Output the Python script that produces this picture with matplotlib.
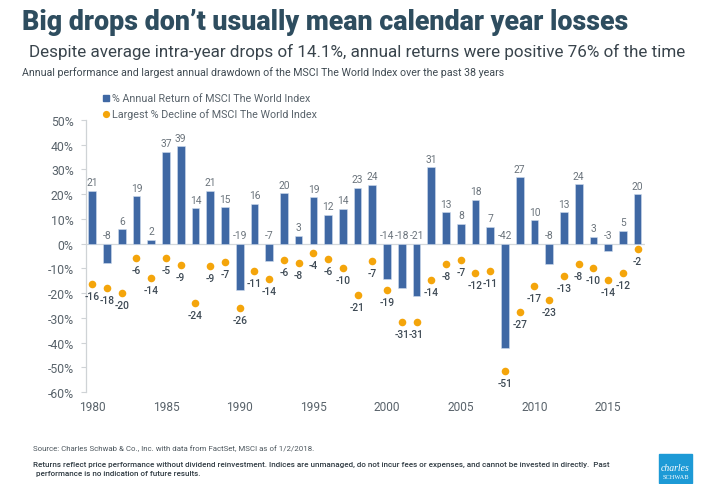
import matplotlib
matplotlib.use("Agg")
import matplotlib.pyplot as plt
from matplotlib.patches import Rectangle
from matplotlib.lines import Line2D

years = list(range(1980, 2018))
returns = [21.3, -7.8, 5.8, 19.2, 1.6, 37.1, 39.3, 14.4, 21.3, 14.7, -18.8, 16.1, -7.2, 20.4, 3.2,
           18.8, 11.7, 14.2, 22.7, 23.8, -14.3, -17.9, -21.3, 30.8, 12.7, 8.1, 17.7, 6.9, -42.4,
           26.9, 9.4, -8.2, 12.7, 24.0, 2.8, -2.8, 5.3, 20.0]
return_labels = [21, -8, 6, 19, 2, 37, 39, 14, 21, 15, -19, 16, -7, 20, 3, 19, 12, 14, 23, 24, -14, -18, -21,
                 31, 13, 8, 18, 7, -42, 27, 10, -8, 13, 24, 3, -3, 5, 20]
declines = [-16.2, -18.1, -19.8, -5.9, -13.8, -5.7, -8.8, -24.0, -9.2, -7.6, -26.2, -10.9, -14.2, -6.6,
            -7.7, -3.9, -6.1, -9.7, -20.6, -7.2, -18.9, -31.6, -31.6, -14.7, -8.4, -6.6, -11.7, -11.2,
            -51.4, -27.8, -17.0, -22.9, -13.2, -8.1, -9.9, -14.7, -11.7, -2.3]
decline_labels = [-16, -18, -20, -6, -14, -5, -9, -24, -9, -7, -26, -11, -14, -6, -8, -4, -6, -10, -21, -7,
                  -19, -31, -31, -14, -8, -7, -12, -11, -51, -27, -17, -23, -13, -8, -10, -14, -12, -2]
y_ticks = [50, 40, 30, 20, 10, 0, -10, -20, -30, -40, -50, -60]
x_ticks = [1980, 1985, 1990, 1995, 2000, 2005, 2010, 2015]
legend_labels = ["% Annual Return of MSCI The World Index", "Largest % Decline of MSCI The World Index"]

BLUE = "#3f68a4"
GOLD = "#f4a50b"
TXT = "#59636b"
DARK = "#3e4a55"
TITLE = "#2e4d5f"
plt.rcParams["font.family"] = ["Roboto", "DejaVu Sans"]

W, H = 720, 485
fig = plt.figure(figsize=(7.2, 4.85), dpi=100)


def px(x, y):
    return x / W, 1 - y / H


x0, x1 = 85.5, 645
y_top, y_bot = 121, 393
ax = fig.add_axes([x0 / W, 1 - y_bot / H, (x1 - x0) / W, (y_bot - y_top) / H])
ax.set_xlim(1979.54, 2017.5)
ax.set_ylim(-60, 50)
ax.patch.set_alpha(0)

ax.bar(years, returns, width=0.52, color=BLUE, edgecolor="#cfdcec", linewidth=0.4, zorder=2)
ax.scatter(years, declines, s=30, color=GOLD, linewidths=0, zorder=3)

for yr, v, lab in zip(years, returns, return_labels):
    base = max(v, 0)
    ax.annotate(str(lab), (yr, base), xytext=(0, 3.5), textcoords="offset pixels", ha="center", va="bottom",
                fontsize=7.4, color="#6b747c", zorder=4)
for yr, v, lab in zip(years, declines, decline_labels):
    ax.annotate(str(lab), (yr, v), xytext=(0, -7), textcoords="offset pixels", ha="center", va="top",
                fontsize=7.4, color=DARK, fontweight="medium", zorder=4)

ax.axhline(0, color="#d4d8db", linewidth=0.9, zorder=1)
for s in ["top", "right", "bottom"]:
    ax.spines[s].set_visible(False)
ax.spines["left"].set_color("#cfd3d6")
ax.spines["left"].set_linewidth(0.9)
ax.set_yticks(y_ticks)
ax.set_yticklabels([f"{t}%" for t in y_ticks], fontsize=8.8, color=TXT)
ax.set_xticks(x_ticks)
ax.set_xticklabels([str(t) for t in x_ticks], fontsize=8.6, color=TXT)
ax.tick_params(axis="y", length=3.5, color="#cfd3d6", width=0.8, pad=5)
ax.tick_params(axis="x", length=0, pad=6)

fig.text(*px(22, 23), "Big drops don’t usually mean calendar year losses", fontsize=19.3, fontweight="black",
         color=TITLE, va="center", ha="left")
fig.text(*px(29, 52), "Despite average intra-year drops of 14.1%, annual returns were positive 76% of the time",
         fontsize=12.25, color="#39444c", va="center", ha="left")
fig.text(*px(22, 73), "Annual performance and largest annual drawdown of the MSCI The World Index over the past 38 years",
         fontsize=7.63, color="#3f4a52", va="center", ha="left")

fig.add_artist(Rectangle((103 / W, 1 - 102 / H), 6 / W, 6 / H, transform=fig.transFigure, color=BLUE))
fig.add_artist(Line2D([105.7 / W], [1 - 114.5 / H], marker="o", markersize=5.2, color=GOLD, markeredgewidth=0,
                      linestyle="none", transform=fig.transFigure))
fig.text(*px(112, 99), legend_labels[0], fontsize=7.75, color=TXT, va="center", ha="left")
fig.text(*px(112, 114.5), legend_labels[1], fontsize=7.75, color=TXT, va="center", ha="left")

fig.text(*px(33, 449), "Source: Charles Schwab & Co., Inc. with data from FactSet, MSCI as of 1/2/2018.",
         fontsize=5.7, color="#4e585f", va="center", ha="left")
fig.text(*px(33, 465), "Returns reflect price performance without dividend reinvestment. Indices are unmanaged, do not incur fees or expenses, and cannot be invested in directly.  Past",
         fontsize=5.8, color="#2f3a42", fontweight="medium", va="center", ha="left")
fig.text(*px(36, 474), "performance is no indication of future results.",
         fontsize=5.8, color="#2f3a42", fontweight="medium", va="center", ha="left")

fig.add_artist(Rectangle((659 / W, 1 - 484 / H), 33 / W, 29 / H, transform=fig.transFigure, color="#1d9ad6"))
fig.text(*px(675.5, 469), "charles", fontsize=7, family="Liberation Serif", style="italic", color="white",
         va="center", ha="center")
fig.text(*px(675.5, 478), "SCHWAB", fontsize=4.6, family="Liberation Serif", color="white", va="center", ha="center")

fig.savefig("out.png", dpi=100)
